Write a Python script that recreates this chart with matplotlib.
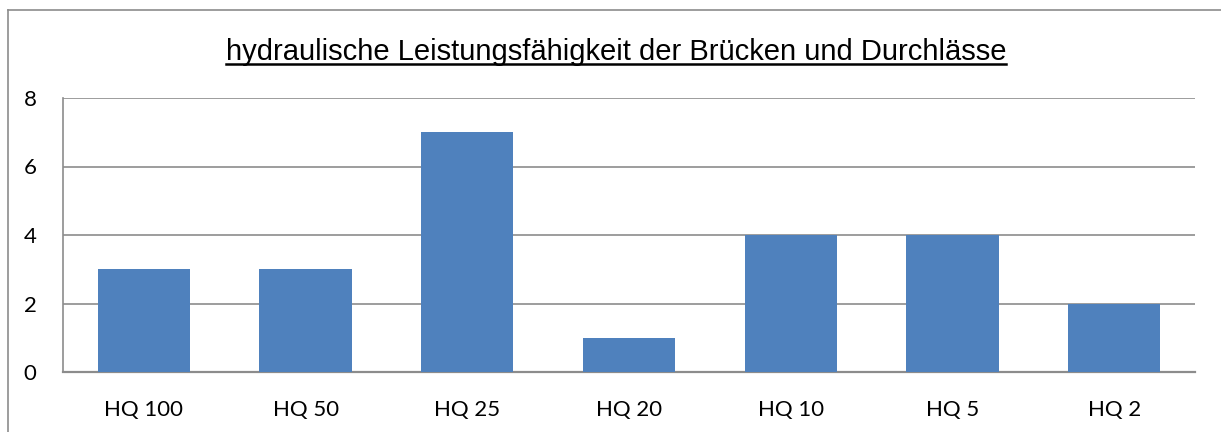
import matplotlib.pyplot as plt
from matplotlib.lines import Line2D

# Daten
kategorien = ['HQ 100', 'HQ 50', 'HQ 25', 'HQ 20', 'HQ 10', 'HQ 5', 'HQ 2']
anzahl = [3, 3, 7, 1, 4, 4, 2]
y_ticks = [0, 2, 4, 6, 8]
titel = 'hydraulische Leistungsfähigkeit der Brücken und Durchlässe'

fig = plt.figure(figsize=(12.21, 4.32), dpi=100)
ax = fig.add_axes([63 / 1221, 60 / 432, 1132 / 1221, 274 / 432])

ax.bar(range(len(kategorien)), anzahl, width=0.57, color='#4F81BD', zorder=3)

ax.set_xlim(-0.5, len(kategorien) - 0.5)
ax.set_ylim(0, 8)
ax.set_yticks(y_ticks)
ax.set_xticks(range(len(kategorien)))
ax.set_xticklabels(kategorien, family='Lato', fontsize=16)
ax.set_yticklabels([str(v) for v in y_ticks], family='Lato', fontsize=16)
ax.tick_params(length=0, pad=19, axis='y')
ax.tick_params(length=0, pad=20, axis='x')

ax.grid(axis='y', color='#8c8c8c', linewidth=1.2, zorder=0)
for s in ['top', 'right']:
    ax.spines[s].set_visible(False)
ax.spines['left'].set_color('#8c8c8c')
ax.spines['left'].set_linewidth(1.2)
ax.spines['bottom'].set_color('#8c8c8c')
ax.spines['bottom'].set_linewidth(1.6)

# Titel mit Unterstreichung
t = fig.text(616 / 1221, 1 - 60 / 432, titel, family='Liberation Sans',
             fontsize=21, ha='center', va='baseline')
fig.canvas.draw()
bb = t.get_window_extent()
y_line = 1 - 64 / 432
fig.add_artist(Line2D([bb.x0 / 1221, bb.x1 / 1221], [y_line, y_line],
                      color='black', linewidth=1.8))

# Rahmen
fig.add_artist(Line2D([8 / 1221, 8 / 1221], [0, 1 - 10 / 432], color='#8c8c8c', linewidth=1.2))
fig.add_artist(Line2D([8 / 1221, 1], [1 - 10 / 432, 1 - 10 / 432], color='#8c8c8c', linewidth=1.2))

fig.savefig('out.png', dpi=100)
